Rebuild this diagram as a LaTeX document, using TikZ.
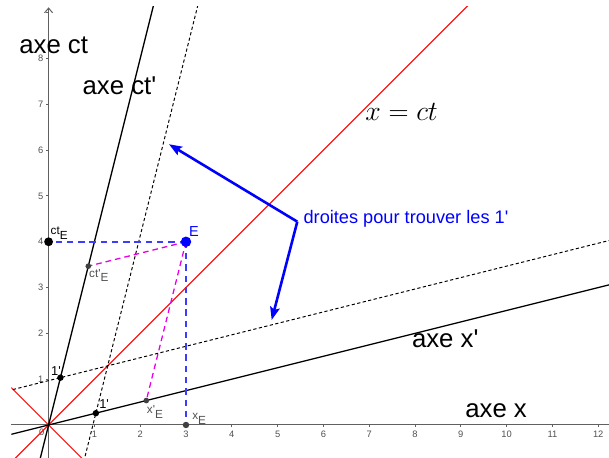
\documentclass[tikz,border=0pt]{standalone}
\usepackage{fontspec}
\setmainfont{Liberation Sans}[Ligatures=ResetAll]
\usetikzlibrary{arrows.meta}
\definecolor{axisgray}{RGB}{96,96,96}
\definecolor{labgray}{RGB}{80,80,80}
\definecolor{projblue}{RGB}{60,60,255}
\definecolor{lightred}{RGB}{255,20,20}
\definecolor{projmag}{RGB}{230,0,230}
\newcommand{\lowE}{\raisebox{-3pt}{E}}
\newcommand{\prm}{\textquotesingle}
\begin{document}
\begin{tikzpicture}[x=1cm,y=1cm,
  axisline/.style={draw=axisgray, line width=0.6pt},
  mainline/.style={draw=black, line width=0.8pt},
  lightline/.style={draw=lightred, line width=0.75pt},
  helper/.style={draw=black, line width=0.6pt, dash pattern=on 2pt off 1.5pt},
  projb/.style={draw=projblue, line width=1.3pt, dash pattern=on 4pt off 3pt},
  projm/.style={draw=projmag, line width=0.8pt, dash pattern=on 3.5pt off 2.5pt},
  bigtxt/.style={anchor=base west, inner sep=0pt, font=\fontsize{16}{19}\selectfont},
  ticklab/.style={text=labgray, font=\fontsize{5.8}{7}\selectfont, inner sep=0pt},
  ptlab/.style={anchor=base west, inner sep=0pt, text=labgray, font=\fontsize{7.3}{8}\selectfont},
  arr/.style={draw=blue, line width=1.6pt, -{Stealth[length=8pt,width=6pt,inset=1.5pt]}},
  dot/.style={circle, fill=#1, inner sep=0pt},
]
\useasboundingbox (-1.061,-0.7205) rectangle (12.236,9.279);

% named points
\coordinate (O) at (0,0);
\coordinate (U1x) at (1.0328,0.2582);
\coordinate (U1t) at (0.2582,1.0328);
\coordinate (E) at (3,4);
\coordinate (ctE) at (0,4);
\coordinate (xE) at (3,0);
\coordinate (ctpE) at (0.8667,3.4667);
\coordinate (xpE) at (2.1333,0.5333);
% line ends
\coordinate (xa0) at (-0.81,0);
\coordinate (xa1) at (12.236,0);
\coordinate (ya0) at (0,-0.7205);
\coordinate (ya1) at (0,9.12);
\coordinate (ctp0) at (-0.2,-0.8);
\coordinate (ctp1) at (2.4,9.6);
\coordinate (xp0) at (-0.9,-0.225);
\coordinate (xp1) at (12.4,3.1);
\coordinate (r10) at (-0.9,-0.9);
\coordinate (r11) at (9.3,9.3);
\coordinate (r20) at (-0.9,0.9);
\coordinate (r21) at (0.9,-0.9);
\coordinate (h10) at (0.768,-0.8);
\coordinate (h11) at (3.293,9.3);
\coordinate (h20) at (-0.9,0.7433);
\coordinate (h21) at (12.4,4.068);
\coordinate (src) at (5.430,4.439);
\coordinate (tip1) at (2.629,6.129);
\coordinate (tip2) at (4.871,2.293);

% axes
\draw[axisline] (xa0) -- (xa1);
\draw[axisline, -{Straight Barb[length=3pt,width=5pt]}] (ya0) -- (ya1);
\foreach \i in {1,...,12} \draw[axisline] (\i,0) -- (\i,-0.05);
\foreach \i in {1,...,9} \draw[axisline] (0,\i) -- (-0.05,\i);
\foreach \i in {1,...,12} \node[ticklab] (tx\i) at (\i,-0.2) {\i};
\foreach \i in {1,...,8} \node[ticklab, anchor=east] (ty\i) at (-0.11,\i) {\i};
\node[ticklab] (t0) at (-0.15,-0.17) {0};

\begin{scope}
\clip (-0.81,-0.7205) rectangle (12.236,9.13);
\draw[lightline] (r10) -- (r11);
\draw[lightline] (r20) -- (r21);
\draw[mainline] (ctp0) -- (ctp1);
\draw[mainline] (xp0) -- (xp1);
\draw[helper] (h10) -- (h11);
\draw[helper] (h20) -- (h21);
\end{scope}

% projections
\draw[projm] (E) -- (ctpE);
\draw[projm] (E) -- (xpE);
\draw[projb] (E) -- (ctE);
\draw[projb] (E) -- (xE);

% points
\node[dot=black, minimum size=5.5pt] (pctE) at (ctE) {};
\node[dot=blue, minimum size=6.5pt] (pE) at (E) {};
\node[dot=black!75, minimum size=4pt] (pxE) at (xE) {};
\node[dot=black!75, minimum size=3.5pt] (pctpE) at (ctpE) {};
\node[dot=black!75, minimum size=3.5pt] (pxpE) at (xpE) {};
\node[dot=black, minimum size=4pt] (pU1x) at (U1x) {};
\node[dot=black, minimum size=4pt] (pU1t) at (U1t) {};

% point labels
\node[ptlab, text=blue, font=\fontsize{9}{10}\selectfont] (lE) at (3.06,4.12) {E};
\node[ptlab, text=black] (lctE) at (0.04,4.15) {ct\lowE};
\node[ptlab] (lctpE) at (0.88,3.23) {ct\prm\lowE};
\node[ptlab] (lxpE) at (2.14,0.255) {x\prm\lowE};
\node[ptlab] (lxE) at (3.13,0.11) {x\lowE};
\node[ptlab, text=black, font=\fontsize{8}{9}\selectfont] (l1x) at (1.10,0.37) {1\prm};
\node[ptlab, text=black, font=\fontsize{8}{9}\selectfont] (l1t) at (0.05,1.09) {1\prm};

% arrows and texts
\draw[arr] (src) -- (tip1);
\draw[arr] (src) -- (tip2);
\node[anchor=base west, inner sep=0pt, text=blue, font=\fontsize{11.3}{13}\selectfont] (droites) at (5.561,4.404) {droites pour trouver les 1\prm};
\node[bigtxt] (axct) at (-0.646,8.116) {axe ct};
\node[bigtxt] (axctp) at (0.736,7.205) {axe ct\prm};
\node[bigtxt] (axxp) at (7.928,1.681) {axe x\prm};
\node[bigtxt] (axx) at (9.092,0.153) {axe x};
\node[anchor=base west, inner sep=0pt, font=\fontsize{16.7}{20}\selectfont] (xct) at (6.908,6.644) {$x=ct$};
\end{tikzpicture}
\end{document}
